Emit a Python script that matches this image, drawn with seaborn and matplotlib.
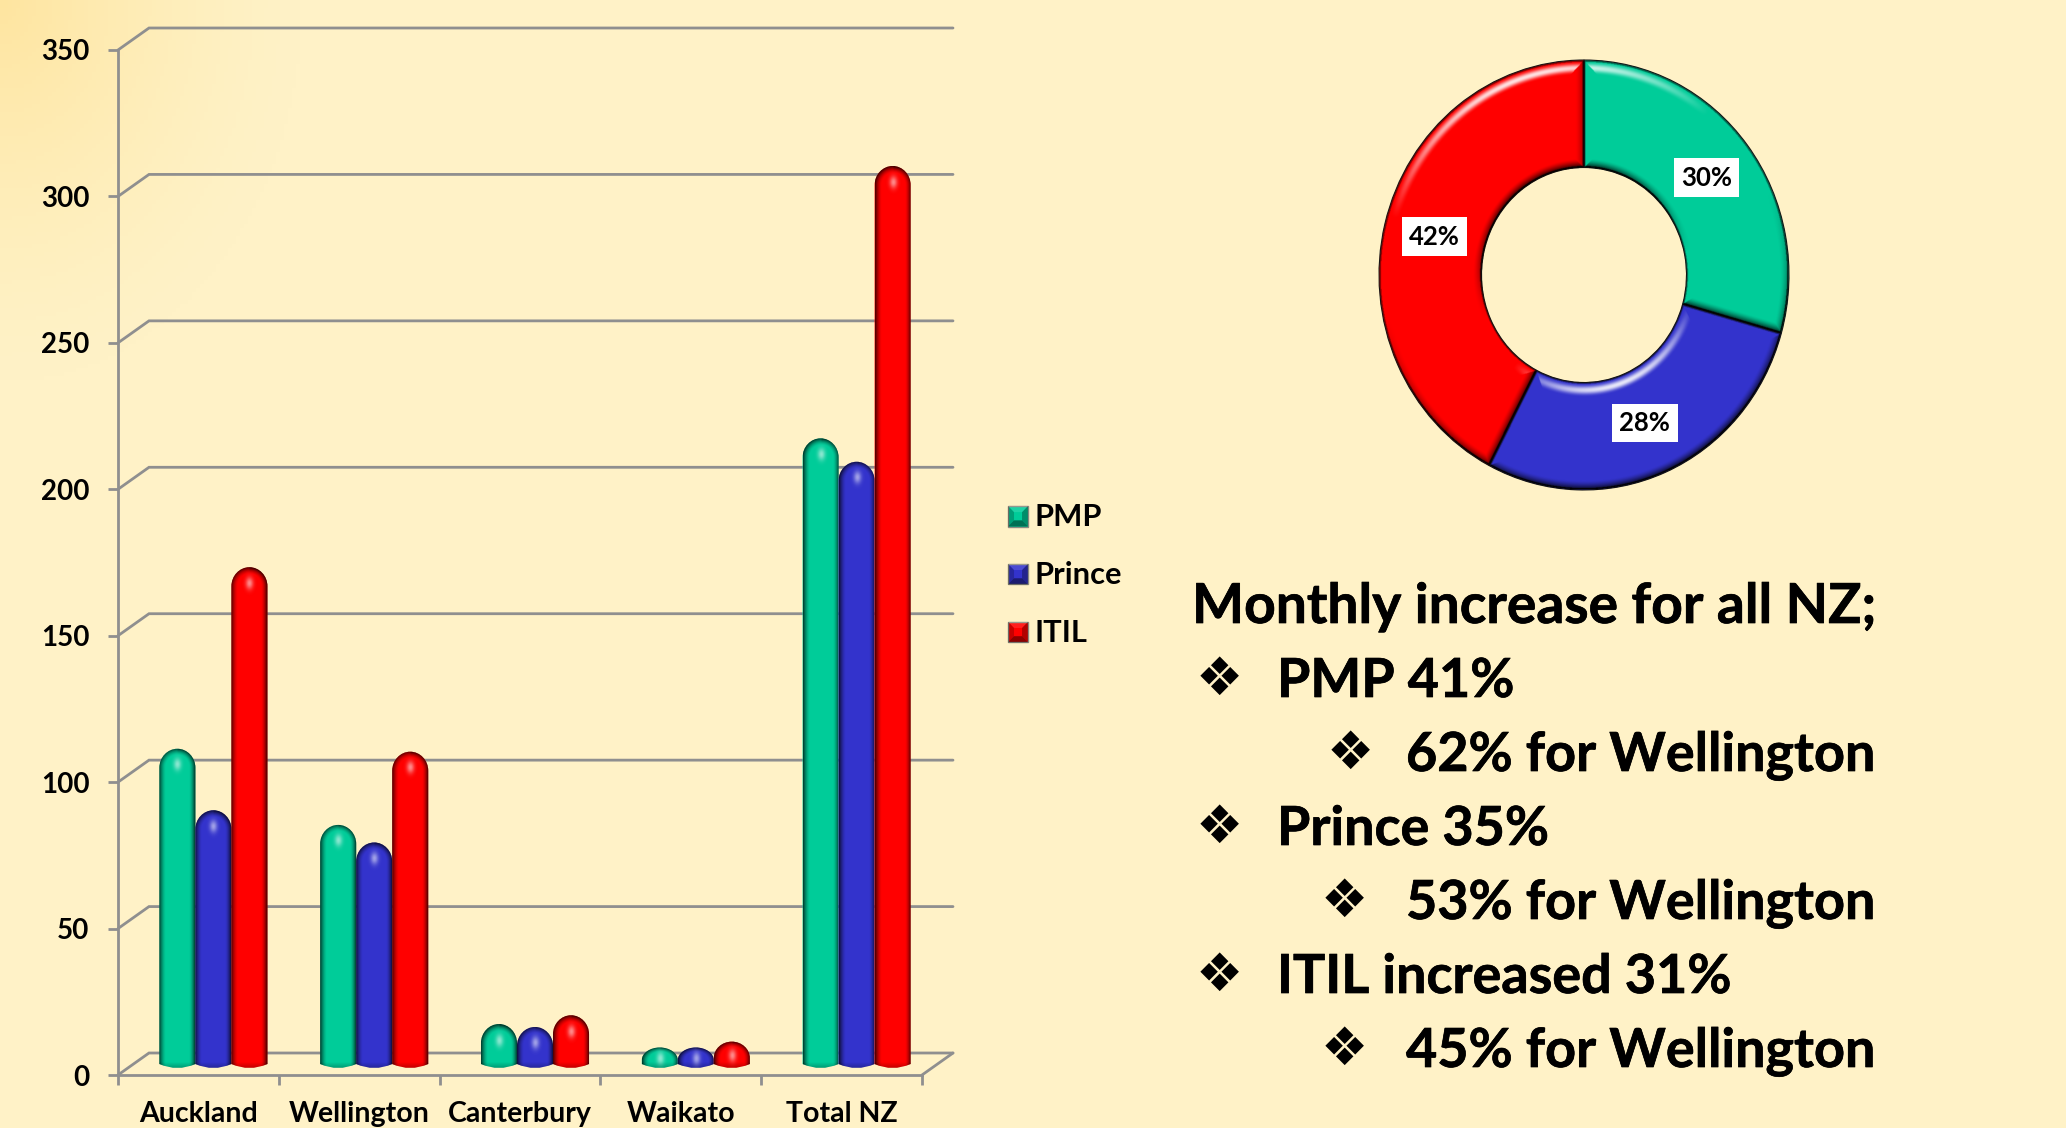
import numpy as np
import pandas as pd
import seaborn as sb
import matplotlib
matplotlib.use("Agg")
import matplotlib.pyplot as plt
import matplotlib.patheffects as pe
from matplotlib.patches import PathPatch, Rectangle, Polygon, Patch
from matplotlib.path import Path

W, H = 2066, 1128

regions = ["Auckland", "Wellington", "Canterbury", "Waikato", "Total NZ"]
pmp = [109, 83, 15, 7, 215]
prince = [88, 77, 14, 7, 207]
itil = [171, 108, 18, 9, 308]
courses = ["PMP", "Prince", "ITIL"]
colors = ["#00cc99", "#3333cc", "#ff0000"]
y_ticks = [0, 50, 100, 150, 200, 250, 300, 350]

pie_values = [213, 205, 307]
pie_labels = ["30%", "28%", "42%"]

heading = "Monthly increase for all NZ;"
bullets = ["PMP 41%", "62% for Wellington", "Prince 35%", "53% for Wellington",
           "ITIL increased 31%", "45% for Wellington"]
bullet_level = [0, 1, 0, 1, 0, 1]

sb.set_theme(style="white")
plt.rcParams["font.family"] = ["Lato", "DejaVu Sans"]
plt.rcParams["font.weight"] = "bold"

fig = plt.figure(figsize=(W / 100, H / 100), dpi=100)


def px_axes(left, top, right, bottom):
    return fig.add_axes([left / W, 1 - bottom / H, (right - left) / W, (bottom - top) / H])


# page background, a little deeper in the top left corner
bg = px_axes(0, 0, W, H)
yy, xx = np.mgrid[0:H:4, 0:W:4]
fade = np.clip(1 - np.hypot(xx / 300, yy / 380), 0, 1)[..., None] ** 1.4
page = np.array([255, 242, 199]) * (1 - fade) + np.array([254, 229, 160]) * fade
bg.imshow(page / 255, aspect="auto", extent=(0, W, H, 0))
bg.axis("off")

# front plane of the chart box, holds axes and grid
frame = px_axes(118, 50, 922, 1075)
frame.patch.set_alpha(0)
frame.set_xlim(-0.5, 4.5)
frame.set_ylim(0, 350)
grey = "#8f8f8f"
depth_x = 31 / 160.8
depth_y = 22 / (1025 / 350)
for v in y_ticks:
    frame.plot([-0.5, -0.5 + depth_x, 4.5 + depth_x], [v, v + depth_y, v + depth_y],
               color=grey, lw=2.0, clip_on=False, solid_joinstyle="miter", zorder=1)
frame.plot([4.5, 4.5 + depth_x], [0, depth_y], color=grey, lw=2.0, clip_on=False)
for s in ["top", "right"]:
    frame.spines[s].set_visible(False)
for s in ["left", "bottom"]:
    frame.spines[s].set_color(grey)
    frame.spines[s].set_linewidth(2.0)
frame.set_yticks(y_ticks)
frame.set_xticks(np.arange(6) - 0.5)
frame.set_xticklabels([])
frame.set_xticks(np.arange(5), labels=regions, minor=True)
frame.tick_params(axis="y", length=7.5, width=2.0, color=grey, pad=13, labelsize=20,
                  left=True, labelcolor="black")
frame.tick_params(axis="x", which="major", length=7.5, width=2.0, color=grey, bottom=True)
frame.tick_params(axis="x", which="minor", length=0, pad=18.5, labelsize=20.5, labelcolor="black")

# bars sit half way into the box
bar_ax = px_axes(133, 43, 937, 1068)
bar_ax.patch.set_alpha(0)
df = pd.DataFrame({"region": regions, "PMP": pmp, "Prince": prince, "ITIL": itil})
m = pd.melt(df, id_vars="region", var_name="course", value_name="count")
sb.barplot(data=m, x="region", y="count", hue="course", hue_order=courses, palette=colors,
           order=regions, width=0.672, gap=0, saturation=1, legend=False, ax=bar_ax)
bar_ax.set_xlim(-0.5, 4.5)
bar_ax.set_ylim(0, 350)
px_per_unit = 1025 / 350


def bar_outline(x0, x1, top):
    top_px = top * px_per_unit
    cap = min(19, top_px * 0.62) / px_per_unit
    lift = 4 / px_per_unit
    xm = (x0 + x1) / 2
    k = 0.55
    hw = xm - x0
    verts = [(x0, lift), (x0, top - cap),
             (x0, top - cap + k * cap), (xm - k * hw, top), (xm, top),
             (xm + k * hw, top), (x1, top - cap + k * cap), (x1, top - cap),
             (x1, lift), (xm, -lift), (x0, lift), (x0, lift)]
    codes = [Path.MOVETO, Path.LINETO, Path.CURVE4, Path.CURVE4, Path.CURVE4,
             Path.CURVE4, Path.CURVE4, Path.CURVE4, Path.LINETO, Path.CURVE3, Path.CURVE3,
             Path.CLOSEPOLY]
    return Path(verts, codes)


def bar_shade(top_px, cap_px):
    rows = max(int(top_px), 2)
    v, u = np.mgrid[0:rows, 0:72]
    u = (u + 0.5) / 36 - 1
    t = v + 0.5
    cap_part = np.clip((cap_px - t) / cap_px, 0, 1)
    r = np.hypot(u, cap_part)
    dark = np.clip((r - 0.62) / 0.38, 0, 1) ** 1.6
    dark = dark * np.where(u > 0, 0.9, 0.75)
    low = np.clip((t - (rows - 6)) / 6, 0, 1) * 0.25
    alpha_dark = np.clip(dark + low, 0, 1)
    spot = 0.55 * np.exp(-((u / 0.2) ** 2 + ((t - cap_px * 0.85) / 6) ** 2))
    # white highlight over black shade
    rgba = np.zeros((rows, 72, 4))
    rgba[..., :3] = (spot / (spot + alpha_dark + 1e-6))[..., None]
    rgba[..., 3] = np.clip(spot + alpha_dark, 0, 1)
    return rgba


for i, container in enumerate(bar_ax.containers):
    for bar in container:
        x0, w, top = bar.get_x(), bar.get_width(), bar.get_height()
        outline = PathPatch(bar_outline(x0, x0 + w, top), transform=bar_ax.transData,
                            facecolor=colors[i], edgecolor="none", zorder=3 + i)
        bar_ax.add_patch(outline)
        bar.set_visible(False)
        top_px = top * px_per_unit
        img = bar_ax.imshow(bar_shade(top_px, min(19, top_px * 0.62)), aspect="auto",
                            extent=(x0, x0 + w, 0, top), zorder=3.5 + i, interpolation="bilinear")
        img.set_clip_path(outline)
bar_ax.set_xlim(-0.5, 4.5)
bar_ax.set_ylim(0, 350)
bar_ax.axis("off")


# legend keys with the pyramid bevel of the original
class BevelKey:
    def legend_artist(self, legend, orig_handle, fontsize, handlebox):
        x, y = handlebox.xdescent, handlebox.ydescent
        a, b = handlebox.width, handlebox.height
        tf = handlebox.get_transform()
        handlebox.add_artist(Rectangle((x, y), a, b, facecolor=orig_handle.get_facecolor(),
                                       edgecolor="#8a8a80", lw=1, transform=tf))
        m_ = 0.3
        c = [(x, y), (x + a, y), (x + a, y + b), (x, y + b)]
        i = [(x + a * m_, y + b * m_), (x + a * (1 - m_), y + b * m_),
             (x + a * (1 - m_), y + b * (1 - m_)), (x + a * m_, y + b * (1 - m_))]
        shades = [("black", 0.45), ("black", 0.3), ("white", 0.12), ("black", 0.22)]
        for k, (col, al) in enumerate(shades):
            j = (k + 1) % 4
            handlebox.add_artist(Polygon([c[k], c[j], i[j], i[k]], facecolor=col, alpha=al,
                                         edgecolor="none", transform=tf))
        return None


keys = [Patch(facecolor=c, label=n) for c, n in zip(colors, courses)]
frame.legend(handles=keys, labels=courses, handler_map={Patch: BevelKey()},
             loc="upper left", bbox_to_anchor=(1008 / W, 1 - 503 / H),
             bbox_transform=fig.transFigure, frameon=False, fontsize=22.2, borderpad=0,
             borderaxespad=0, labelspacing=0.97, handlelength=0.65, handleheight=0.65,
             handletextpad=0.2, labelcolor="black")

# donut
donut = px_axes(1379, 60, 1789, 490)
wedges, texts = donut.pie(pie_values, colors=colors, labels=pie_labels, labeldistance=0.75,
                          startangle=90, counterclock=False, radius=1,
                          wedgeprops=dict(width=0.5, edgecolor="#1c1c1c", linewidth=0.8))
donut.set_aspect("auto")
donut.set_xlim(-1, 1)
donut.set_ylim(-1, 1)
for t in texts:
    t.set(ha="center", va="center", fontsize=18.5, color="black", zorder=6,
          bbox=dict(facecolor="white", edgecolor="none", pad=5.2))

gy, gx = np.mgrid[1:-1:860j, -1:1:820j]
rr = np.hypot(gx, gy)
rad = 210.0
ang = np.degrees(np.arctan2(gy, gx)) % 360
light = np.array([-0.3, 0.95])
dark_a = np.zeros(rr.shape)
lite_a = np.zeros(rr.shape)
for wd in wedges:
    rel = (ang - wd.theta1) % 360
    span = wd.theta2 - wd.theta1
    inside = (rel < span) & (rr < 1) & (rr > 0.5)
    d = np.stack([(1 - rr) * rad, (rr - 0.5) * rad,
                  rr * rad * np.radians(rel), rr * rad * np.radians(span - rel)])
    th1 = np.radians(wd.theta1)
    th2 = np.radians(wd.theta2)
    ux, uy = gx / np.maximum(rr, 1e-6), gy / np.maximum(rr, 1e-6)
    nx = np.stack([ux, -ux, np.full(rr.shape, np.sin(th1)), np.full(rr.shape, -np.sin(th2))])
    ny = np.stack([uy, -uy, np.full(rr.shape, -np.cos(th1)), np.full(rr.shape, np.cos(th2))])
    idx = d.argmin(axis=0)
    dist = np.take_along_axis(d, idx[None], 0)[0]
    nnx = np.take_along_axis(nx, idx[None], 0)[0]
    nny = np.take_along_axis(ny, idx[None], 0)[0]
    facing = nnx * light[0] + nny * light[1]
    t_dark = np.clip(1 - dist / 9, 0, 1)
    t_lite = np.clip(1 - dist / 15, 0, 1)
    shade = t_dark ** 1.5 * np.clip(-facing + 0.1, 0, 1) * 0.95 + (dist < 1.6) * 0.5
    # highlights only follow the round edges, not the cuts between slices
    glow = np.sin(np.pi * t_lite) ** 3 * np.clip(facing - 0.55, 0, 1) * 2.0 * (idx < 2)
    dark_a[inside] = np.clip(shade, 0, 1)[inside]
    lite_a[inside] = np.clip(glow, 0, 1)[inside]
for col, al in ((0.0, dark_a), (1.0, lite_a)):
    layer = np.zeros(rr.shape + (4,))
    layer[..., :3] = col
    layer[..., 3] = al
    donut.imshow(layer, extent=(-1, 1, -1, 1), aspect="auto", zorder=3, interpolation="bilinear")
donut.set_xlim(-1, 1)
donut.set_ylim(-1, 1)
donut.axis("off")

# text block
base = 623
step = 74
heavy = [pe.withStroke(linewidth=0.5, foreground="black")]
fig.text(1192 / W, 1 - base / H, heading, fontsize=39.7, fontweight="bold", va="baseline",
         color="black", path_effects=heavy)
for i, (line, lev) in enumerate(zip(bullets, bullet_level)):
    y = base + step * (i + 1)
    tx = 1406 if lev else 1277
    bx = (1350 if i == 1 else 1344) if lev else 1219
    fig.text(tx / W, 1 - y / H, line, fontsize=38.8, fontweight="bold", va="baseline",
             color="black", path_effects=heavy)
    fig.text(bx / W, 1 - (y - 17) / H, "\u2756", fontsize=38, family="DejaVu Sans",
             ha="center", va="center", color="black")

plt.savefig("out.png", dpi=100)
plt.close()
